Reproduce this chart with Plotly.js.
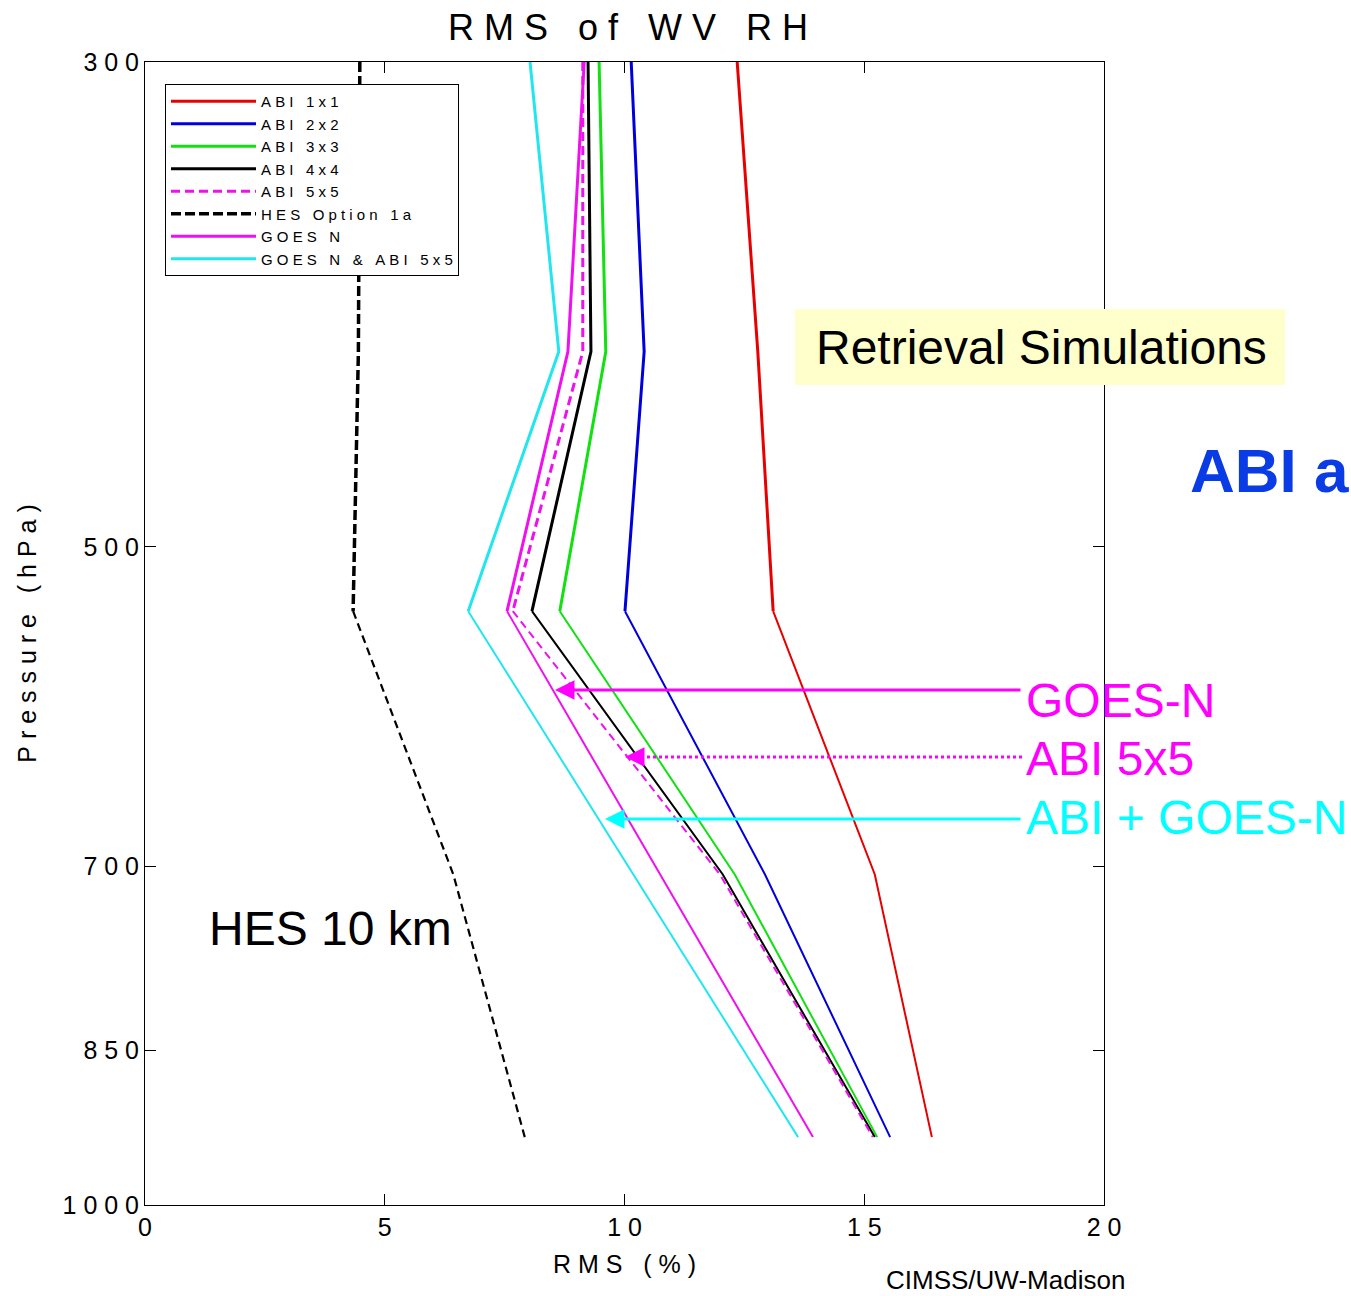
<!DOCTYPE html>
<html><head><meta charset="utf-8">
<script src="https://cdn.plot.ly/plotly-3.0.1.min.js"></script>
<style>html,body{margin:0;padding:0;background:#fff;}</style>
</head><body>
<div id="chart" style="width:1351px;height:1296px;"></div>
<script>
// ---- data ----
const pressureLevels = [300, 407, 535, 706, 931];          // hPa
const abi1x1   = [12.35, 12.78, 13.10, 15.22, 16.41];
const abi2x2   = [10.14, 10.41, 10.01, 12.93, 15.54];
const abi3x3   = [9.47, 9.61, 8.65, 12.30, 15.27];
const abi4x4   = [9.24, 9.30, 8.07, 12.05, 15.22];
const abi5x5   = [9.13, 9.13, 7.67, 11.99, 15.18];
const hesOpt1a = [4.48, 4.45, 4.34, 6.43, 7.92];
const goesN    = [9.16, 8.82, 7.55, 10.75, 13.93];
const goesNAbi = [8.03, 8.63, 6.74, 10.19, 13.62];

const seriesNames = ['ABI 1x1','ABI 2x2','ABI 3x3','ABI 4x4','ABI 5x5','HES Option 1a','GOES N','GOES N & ABI 5x5'];
const seriesValues = [abi1x1, abi2x2, abi3x3, abi4x4, abi5x5, hesOpt1a, goesN, goesNAbi];
const seriesColors = ['#e80000','#0000dd','#11e011','#000000','#ee11ee','#000000','#ee11ee','#22e6ee'];
const seriesDashUpper = ['solid','solid','solid','solid','9px,5px','10px,4px','solid','solid'];
const seriesDashLower = ['solid','solid','solid','solid','8px,5px','8px,5px','solid','solid'];

const pressureTicks = [300, 500, 700, 850, 1000];
const rmsTicks = [0, 5, 10, 15, 20];

const FONT = 'Liberation Sans, Arial, Helvetica, sans-serif';
const NB = '\u00a0';
function spaced(s, wordGap) {
  return s.split(' ').map(w => Array.from(w).join(NB)).join(NB.repeat(wordGap || 2));
}

// ---- traces: upper part drawn thicker, lower part thinner (as in the picture) ----
const traces = [];
seriesNames.forEach((name, i) => {
  traces.push({
    x: seriesValues[i].slice(0, 3), y: pressureLevels.slice(0, 3),
    type: 'scatter', mode: 'lines', name: spaced(name, 3), legendgroup: name,
    line: {color: seriesColors[i], width: name.startsWith('HES') ? 3.5 : 3, dash: seriesDashUpper[i]},
    hoverinfo: 'x+y'
  });
});
seriesNames.forEach((name, i) => {
  traces.push({
    x: seriesValues[i].slice(2), y: pressureLevels.slice(2),
    type: 'scatter', mode: 'lines', name: spaced(name, 3), legendgroup: name, showlegend: false,
    line: {color: seriesColors[i], width: name.startsWith('HES') ? 2.2 : 2, dash: seriesDashLower[i]},
    hoverinfo: 'x+y'
  });
});

// pixel helpers for annotation placement (plot area 145..1104 x 62..1205)
const px = v => (v - 145) / 959;
const py = v => (1205 - v) / 1143;

const layout = {
  width: 1351, height: 1296,
  margin: {l: 145, r: 247, t: 62, b: 91},
  paper_bgcolor: '#ffffff', plot_bgcolor: '#ffffff',
  font: {family: FONT, color: '#000'},
  showlegend: true,
  title: {
    text: spaced('RMS of WV RH', 3),
    font: {size: 36, family: FONT, color: '#000'},
    x: 628 / 1351, xref: 'container', xanchor: 'center',
    y: 1 - 27 / 1296, yref: 'container', yanchor: 'middle'
  },
  xaxis: {
    range: [0, 20], tickvals: rmsTicks, ticktext: rmsTicks.map(v => spaced(String(v))),
    ticks: 'inside', ticklen: 11, tickcolor: '#000', tickwidth: 1,
    showline: true, linecolor: '#000', linewidth: 1, mirror: 'ticks',
    showgrid: false, zeroline: false,
    tickfont: {size: 25, family: FONT, color: '#000'},
    title: {text: spaced('RMS (%)', 3), font: {size: 25, family: FONT, color: '#000'}, standoff: 15}
  },
  yaxis: {
    type: 'log', range: [Math.log10(1000), Math.log10(300)],
    tickvals: pressureTicks, ticktext: pressureTicks.map(v => spaced(String(v))),
    ticks: 'inside', ticklen: 11, tickcolor: '#000', tickwidth: 1,
    showline: true, linecolor: '#000', linewidth: 1, mirror: 'ticks',
    showgrid: false, zeroline: false,
    tickfont: {size: 25, family: FONT, color: '#000'},
    title: {text: spaced('Pressure (hPa)', 3), font: {size: 25, family: FONT, color: '#000'}, standoff: 18}
  },
  legend: {
    x: px(165), y: py(84), xanchor: 'left', yanchor: 'top',
    bgcolor: '#ffffff', bordercolor: '#000', borderwidth: 1,
    font: {size: 15, family: FONT, color: '#000'},
    itemwidth: 85, tracegroupgap: 0
  },
  shapes: [
    {type: 'rect', xref: 'paper', yref: 'paper', x0: px(795), x1: px(1285), y0: py(385), y1: py(309),
     fillcolor: '#ffffcc', line: {width: 0}, layer: 'above'},
    {type: 'line', xref: 'paper', yref: 'paper', x0: px(1022), x1: px(640), y0: py(757), y1: py(757),
     line: {color: '#ff00ff', width: 3, dash: '3px,3px'}, layer: 'above'}
  ],
  annotations: [
    {text: 'Retrieval Simulations', xref: 'paper', yref: 'paper', x: px(1041), y: py(348),
     xanchor: 'center', yanchor: 'middle', showarrow: false, font: {size: 48, family: FONT, color: '#000'}},
    {text: '<b>ABI a</b>', xref: 'paper', yref: 'paper', x: px(1188), y: py(470),
     xanchor: 'left', yanchor: 'middle', showarrow: false, font: {size: 62, family: FONT, color: '#0a3ce6'}},
    {text: 'GOES-N', xref: 'paper', yref: 'paper', x: px(1024), y: py(700),
     xanchor: 'left', yanchor: 'middle', showarrow: false, font: {size: 48, family: FONT, color: '#ff00ff'}},
    {text: 'ABI 5x5', xref: 'paper', yref: 'paper', x: px(1024), y: py(758),
     xanchor: 'left', yanchor: 'middle', showarrow: false, font: {size: 48, family: FONT, color: '#ff00ff'}},
    {text: 'ABI + GOES-N', xref: 'paper', yref: 'paper', x: px(1024), y: py(818),
     xanchor: 'left', yanchor: 'middle', showarrow: false, font: {size: 48, family: FONT, color: '#00ffff'}},
    {text: 'HES 10 km', xref: 'paper', yref: 'paper', x: px(207), y: py(928),
     xanchor: 'left', yanchor: 'middle', showarrow: false, font: {size: 48, family: FONT, color: '#000'}},
    {text: 'CIMSS/UW-Madison', xref: 'paper', yref: 'paper', x: px(884), y: py(1280),
     xanchor: 'left', yanchor: 'middle', showarrow: false, font: {size: 26, family: FONT, color: '#000'}},
    // arrows
    {text: '', xref: 'paper', yref: 'paper', x: px(555), y: py(690), ax: 467, ay: 0,
     showarrow: true, arrowhead: 2, arrowsize: 1.3, arrowwidth: 3, arrowcolor: '#ff00ff', standoff: 0},
    {text: '', xref: 'paper', yref: 'paper', x: px(625), y: py(757), ax: 20, ay: 0,
     showarrow: true, arrowhead: 2, arrowsize: 1.3, arrowwidth: 3, arrowcolor: '#ff00ff', standoff: 0},
    {text: '', xref: 'paper', yref: 'paper', x: px(605), y: py(819), ax: 417, ay: 0,
     showarrow: true, arrowhead: 2, arrowsize: 1.3, arrowwidth: 3, arrowcolor: '#00ffff', standoff: 0}
  ]
};

Plotly.newPlot('chart', traces, layout, {displayModeBar: false, staticPlot: true});
</script>
</body></html>
